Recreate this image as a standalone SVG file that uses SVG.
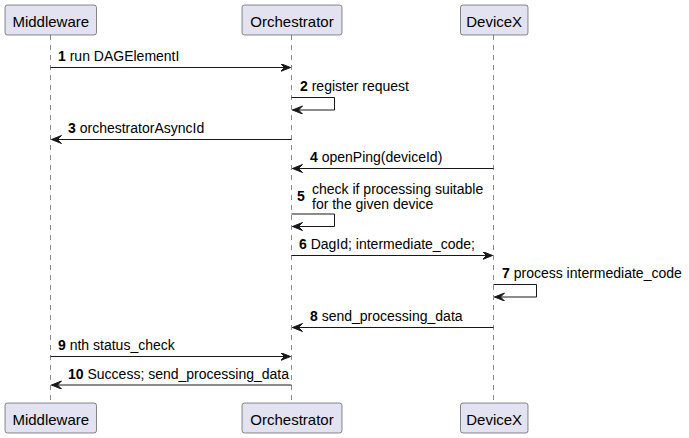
<svg xmlns="http://www.w3.org/2000/svg" width="689" height="438" viewBox="0 0 689 438">
<style>
.bg{fill:#FFFFFF}
.part rect{fill:#E2E2F0;stroke:#181818;stroke-width:0.5}
.part text{font-family:"Liberation Sans",Arial,sans-serif;font-size:15px;fill:#000000;text-anchor:middle}
.life{stroke:#181818;stroke-width:0.5;stroke-dasharray:5,5;fill:none}
.msg{stroke:#181818;stroke-width:1;fill:none;marker-end:url(#ah)}
.lbl{font-family:"Liberation Sans",Arial,sans-serif;font-size:14px;fill:#000000}
.num{font-weight:bold}
</style>
<defs>
<marker id="ah" markerUnits="userSpaceOnUse" markerWidth="11" markerHeight="9" refX="10" refY="4" orient="auto" viewBox="0 0 11 9">
<path d="M0,0 L10,4 L0,8 L4,4 Z" fill="#181818" stroke="#181818" stroke-width="1"/>
</marker>
</defs>
<rect class="bg" x="0" y="0" width="689" height="438"/>
<g id="lifelines">
<line class="life" x1="50.5" y1="35" x2="50.5" y2="403"/>
<line class="life" x1="291.5" y1="35" x2="291.5" y2="403"/>
<line class="life" x1="493.5" y1="35" x2="493.5" y2="403"/>
</g>
<g id="Middleware" class="part">
<rect x="5" y="5" width="91.5" height="30" rx="2.5"/>
<text x="50.8" y="26.5">Middleware</text>
<rect x="5" y="403" width="91.5" height="30" rx="2.5"/>
<text x="50.8" y="424.5">Middleware</text>
</g>
<g id="Orchestrator" class="part">
<rect x="242" y="5" width="100" height="30" rx="2.5"/>
<text x="292" y="26.5">Orchestrator</text>
<rect x="242" y="403" width="100" height="30" rx="2.5"/>
<text x="292" y="424.5">Orchestrator</text>
</g>
<g id="DeviceX" class="part">
<rect x="460.5" y="5" width="67.5" height="30" rx="2.5"/>
<text x="494.2" y="26.5">DeviceX</text>
<rect x="460.5" y="403" width="67.5" height="30" rx="2.5"/>
<text x="494.2" y="424.5">DeviceX</text>
</g>
<g id="connectors">
<line class="msg" x1="50.5" y1="67.5" x2="290.5" y2="67.5"/>
<polyline class="msg" points="291.5,97.5 334.5,97.5 334.5,110 292.5,110"/>
<line class="msg" x1="291.5" y1="139.5" x2="51.5" y2="139.5"/>
<line class="msg" x1="493.5" y1="168.5" x2="292.5" y2="168.5"/>
<polyline class="msg" points="291.5,214 334.5,214 334.5,226.5 292.5,226.5"/>
<line class="msg" x1="291.5" y1="255.5" x2="492.5" y2="255.5"/>
<polyline class="msg" points="493.5,284.5 536.5,284.5 536.5,297 494.5,297"/>
<line class="msg" x1="493.5" y1="327.5" x2="292.5" y2="327.5"/>
<line class="msg" x1="50.5" y1="356.5" x2="290.5" y2="356.5"/>
<line class="msg" x1="291.5" y1="385" x2="51.5" y2="385"/>
</g>
<g id="labels">
<text class="lbl" x="58" y="61"><tspan class="num">1</tspan> run DAGElementI</text>
<text class="lbl" x="300" y="91"><tspan class="num">2</tspan> register request</text>
<text class="lbl" x="68" y="133"><tspan class="num">3</tspan> orchestratorAsyncId</text>
<text class="lbl" x="310" y="162"><tspan class="num">4</tspan> openPing(deviceId)</text>
<text class="lbl num" x="297" y="200.5">5</text>
<text class="lbl" x="312" y="193.5">check if processing suitable</text>
<text class="lbl" x="312" y="208.5">for the given device</text>
<text class="lbl" x="299" y="249"><tspan class="num">6</tspan> DagId; intermediate_code;</text>
<text class="lbl" x="502" y="278"><tspan class="num">7</tspan> process intermediate_code</text>
<text class="lbl" x="310" y="321"><tspan class="num">8</tspan> send_processing_data</text>
<text class="lbl" x="58" y="350"><tspan class="num">9</tspan> nth status_check</text>
<text class="lbl" x="68" y="378.5"><tspan class="num">10</tspan> Success; send_processing_data</text>
</g>
</svg>
